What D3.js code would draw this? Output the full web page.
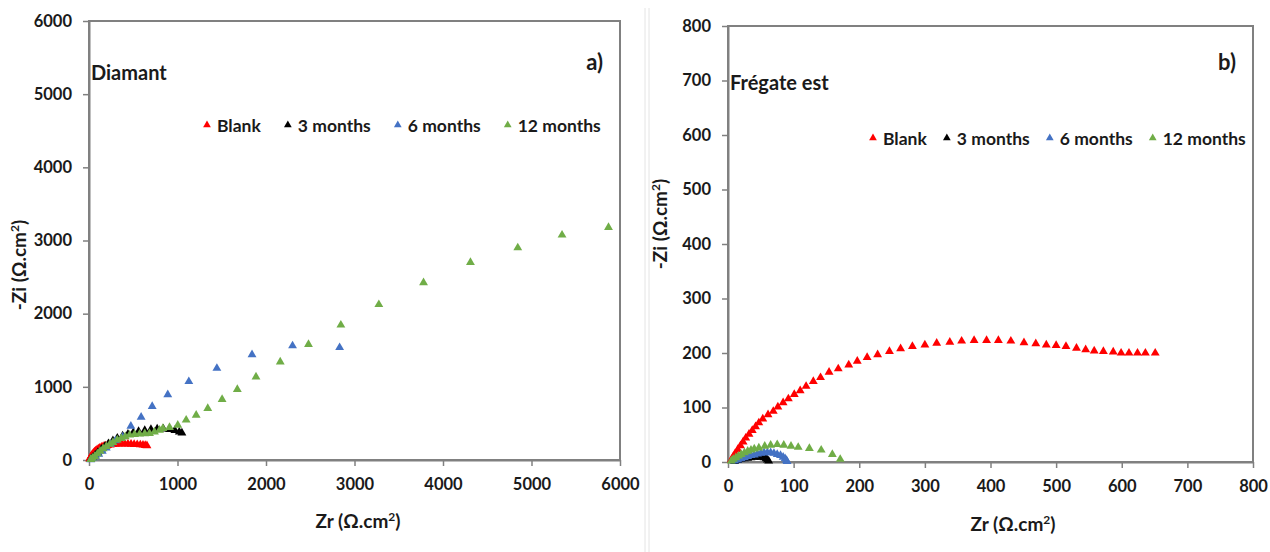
<!DOCTYPE html>
<html>
<head>
<meta charset="utf-8">
<script src="https://cdn.jsdelivr.net/npm/d3@7"></script>
<style>
  body { margin: 0; background: #fff; }
  svg text { font-family: Lato, "Open Sans", sans-serif; fill: #1a1a1a; }
</style>
</head>
<body>
<svg id="chart"></svg>
<script>
const w = 1270;
const h = 552;

const seriesNames = ["Blank", "3 months", "6 months", "12 months"];
const seriesColors = ["#ff0000", "#000000", "#4472c4", "#70ad47"];

// panel a) Diamant, [Zr, -Zi]
const diamantBlank = [[8,15],[15,30],[22,45],[30,62],[40,78],[50,95],[62,110],[75,125],[90,140],[105,152],[120,163],[140,175],[160,185],[185,193],[210,200],[240,207],[270,212],[300,215],[335,218],[370,220],[405,220],[440,219],[475,217],[510,214],[545,211],[580,208],[610,205],[635,200],[655,195]];
const diamant3 = [[20,12],[40,35],[70,70],[100,105],[140,150],[180,190],[220,225],[270,265],[320,300],[380,330],[440,355],[500,375],[560,390],[630,405],[700,418],[770,425],[840,425],[910,418],[970,405],[1020,385],[1050,370]];
const diamant6 = [[20,5],[45,20],[75,45],[110,80],[150,120],[195,165],[245,215],[300,265],[380,317],[473,463],[589,585],[714,732],[890,893],[1128,1073],[1445,1254],[1842,1439],[2300,1561],[2832,1537]];
const diamant12 = [[20,8],[40,25],[65,50],[95,85],[125,120],[160,155],[196,185],[235,215],[271,240],[320,275],[365,296],[410,320],[459,341],[515,350],[572,355],[630,360],[684,364],[740,385],[797,409],[835,432],[910,446],[1003,477],[1098,546],[1211,614],[1342,705],[1504,828],[1676,964],[1887,1136],[2161,1341],[2480,1580],[2846,1845],[3275,2125],[3780,2425],[4310,2700],[4845,2900],[5345,3075],[5870,3180]];

// panel b) Frégate est, [Zr, -Zi]
const fregateBlank = [[5,4],[8,10],[11,16],[15,23],[19,30],[23,37],[27,44],[32,51],[37,58],[42,65],[47,72],[53,79],[61,87],[69,93],[76,101],[84,109],[92,116],[101,124],[110,131],[119,139],[130,148],[141,155],[154,165],[168,171],[184,178],[197,185],[212,192],[228,197],[246,203],[263,208],[281,212],[300,215],[318,218],[338,220],[356,222],[375,223],[394,223],[412,223],[431,222],[451,219],[469,217],[485,215],[500,214],[515,212],[531,209],[545,206],[558,204],[572,203],[587,202],[599,200],[611,200],[624,200],[636,200],[651,200]];
const fregate3 = [[10,1],[15,3],[20,5],[25,6],[30,7],[35,8],[40,9],[45,9],[50,9],[55,8],[58,6],[60,4],[62,2]];
const fregate6 = [[10,2],[15,4],[20,6],[25,8],[30,10],[35,12],[40,13],[45,15],[50,16],[55,17],[60,17],[65,17],[70,16],[75,14],[80,12],[84,9],[87,6],[89,3],[90,1]];
const fregate12 = [[5,2],[8,5],[12,8],[16,11],[20,14],[25,17],[30,20],[35,22],[40,24],[47,26],[56,29],[65,31],[75,32],[85,31],[96,29],[107,27],[124,25],[142,22],[159,14],[171,5]];

const diamantTicks = [0, 1000, 2000, 3000, 4000, 5000, 6000];
const fregateTicks = [0, 100, 200, 300, 400, 500, 600, 700, 800];

const svg = d3.select("#chart")
    .attr("width", w)
    .attr("height", h);

// divider between the two pictures
[645, 649].forEach(x => {
    svg.append("line")
        .attr("x1", x).attr("x2", x)
        .attr("y1", 8).attr("y2", h)
        .attr("stroke", "#e4e4e4")
        .attr("stroke-width", 1);
});

function drawPanel(p) {
    const xScale = d3.scaleLinear().domain([0, p.max]).range([p.left, p.right]);
    const yScale = d3.scaleLinear().domain([0, p.max]).range([p.bottom, p.top]);

    const g = svg.append("g");

    // frame
    g.append("rect")
        .attr("x", p.left).attr("y", p.top)
        .attr("width", p.right - p.left).attr("height", p.bottom - p.top)
        .attr("fill", "none")
        .attr("stroke", "#808080")
        .attr("stroke-width", 2);

    const fmt = d3.format("d");
    const xAxis = d3.axisBottom(xScale).tickValues(p.ticks).tickFormat(fmt).tickSize(6).tickPadding(12).tickSizeOuter(0);
    const yAxis = d3.axisLeft(yScale).tickValues(p.ticks).tickFormat(fmt).tickSize(6).tickPadding(11).tickSizeOuter(0);

    const gx = g.append("g")
        .attr("transform", `translate(0,${p.bottom})`)
        .call(xAxis);
    const gy = g.append("g")
        .attr("transform", `translate(${p.left},0)`)
        .call(yAxis);

    [gx, gy].forEach(a => {
        a.select(".domain").attr("stroke", "#808080").attr("stroke-width", 2);
        a.selectAll(".tick line").attr("stroke", "#808080").attr("stroke-width", 1.5);
        a.selectAll(".tick text")
            .attr("font-family", "Lato, sans-serif")
            .attr("font-size", 16.5)
            .attr("font-weight", 700)
            .attr("fill", "#1a1a1a");
    });

    // points
    p.series.forEach((data, i) => {
        g.append("g").selectAll("path")
            .data(data)
            .enter()
            .append("path")
            .attr("d", d3.symbol(d3.symbolTriangle, 34))
            .attr("transform", d => `translate(${xScale(d[0])},${yScale(d[1])})`)
            .attr("fill", seriesColors[i]);
    });

    // legend
    let lx = p.legendX;
    seriesNames.forEach((name, i) => {
        g.append("path")
            .attr("d", d3.symbol(d3.symbolTriangle, 26))
            .attr("transform", `translate(${lx},${p.legendY - 1})`)
            .attr("fill", seriesColors[i]);
        const t = g.append("text")
            .attr("x", lx + 10)
            .attr("y", p.legendY + 6)
            .attr("font-size", 17.5)
            .attr("font-weight", 700)
            .text(name);
        lx += 10 + t.node().getComputedTextLength() + p.legendGap;
    });

    g.append("text")
        .attr("x", p.left + 2)
        .attr("y", p.nameY)
        .attr("font-size", 20)
        .attr("font-weight", 700)
        .text(p.name);

    g.append("text")
        .attr("x", p.right - 17)
        .attr("y", 70)
        .attr("text-anchor", "end")
        .attr("font-size", 22)
        .attr("font-weight", 700)
        .text(p.letter);

    // axis titles
    const xt = g.append("text")
        .attr("x", p.xTitleX)
        .attr("y", p.xTitleY)
        .attr("text-anchor", "middle")
        .attr("font-size", 19)
        .attr("font-weight", 700);
    xt.append("tspan").text("Zr (Ω.cm");
    xt.append("tspan").attr("font-size", 12).attr("dy", -7).text("2");
    xt.append("tspan").attr("dy", 7).text(")");

    const yt = g.append("text")
        .attr("transform", `translate(${p.yTitleX},${p.yTitleY}) rotate(-90)`)
        .attr("text-anchor", "middle")
        .attr("font-size", 19)
        .attr("font-weight", 700);
    yt.append("tspan").text("-Zi (Ω.cm");
    yt.append("tspan").attr("font-size", 12).attr("dy", -7).text("2");
    yt.append("tspan").attr("dy", 7).text(")");
}

drawPanel({
    left: 89, right: 620, top: 21, bottom: 460, max: 6000,
    ticks: diamantTicks,
    series: [diamantBlank, diamant3, diamant6, diamant12],
    legendX: 207, legendY: 126, legendGap: 27,
    name: "Diamant", nameY: 80, letter: "a)",
    xTitleX: 358, xTitleY: 528, yTitleX: 26, yTitleY: 265
});

drawPanel({
    left: 728, right: 1253, top: 26, bottom: 462, max: 800,
    ticks: fregateTicks,
    series: [fregateBlank, fregate3, fregate6, fregate12],
    legendX: 873, legendY: 139, legendGap: 20,
    name: "Frégate est", nameY: 90, letter: "b)",
    xTitleX: 1013, xTitleY: 531, yTitleX: 667, yTitleY: 224
});
</script>
</body>
</html>
